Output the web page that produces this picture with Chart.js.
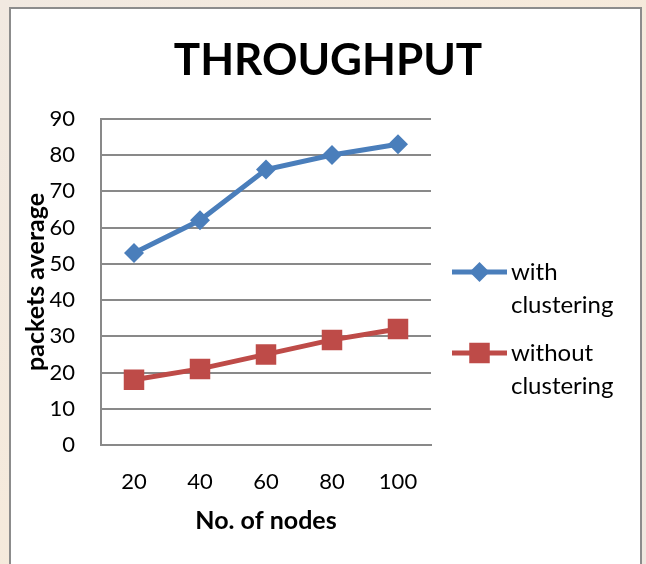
<!DOCTYPE html>
<html>
<head>
<meta charset="utf-8">
<script src="https://cdn.jsdelivr.net/npm/chart.js@4/dist/chart.umd.min.js"></script>
<style>
  html, body { margin: 0; padding: 0; background: #f3ebe2; }
  #wrap { position: relative; width: 646px; height: 564px; }
  canvas { display: block; }
</style>
</head>
<body>
<div id="wrap"><canvas id="c" width="646" height="564"></canvas></div>
<script>
// Throughput per node count, with and without clustering
const nodeCounts = ['20', '40', '60', '80', '100'];
const withClustering = [53, 62, 76, 80, 83];
const withoutClustering = [18, 21, 25, 29, 32];
const legendLines = [['with', 'clustering'], ['without', 'clustering']];

const FONT = "Lato, 'Open Sans', sans-serif";
const BLUE = '#4a7ebb';
const RED = '#be4b48';
const GRID = '#898989';

// White framed panel over a soft beige page
const framePlugin = {
  id: 'frame',
  beforeDraw(chart) {
    const ctx = chart.ctx;
    const w = chart.width, h = chart.height;
    ctx.save();
    const g = ctx.createLinearGradient(0, 0, w, h);
    g.addColorStop(0, '#f1e9e1');
    g.addColorStop(0.5, '#f6eadb');
    g.addColorStop(1, '#efe7df');
    ctx.fillStyle = g;
    ctx.fillRect(0, 0, w, h);
    ctx.fillStyle = '#ffffff';
    ctx.fillRect(10, 8, 631, h);
    ctx.strokeStyle = '#8c8c8c';
    ctx.lineWidth = 2;
    ctx.strokeRect(10, 8, 631, h + 10);
    ctx.restore();
  }
};

// Right-hand legend column: reserves space in the layout and draws
// each series sample with its label wrapped over two lines
const legendBox = {
  position: 'right',
  weight: 0,
  fullSize: false,
  options: { stackWeight: 1 },
  left: 0, top: 0, right: 0, bottom: 0, width: 0, height: 0,
  chart: null,
  isHorizontal() { return false; },
  update(maxWidth, maxHeight) { this.width = 215; this.height = maxHeight; },
  draw() {
    const chart = this.chart;
    const ctx = chart.ctx;
    const x0 = this.left + 21, x1 = this.left + 76, textX = this.left + 80;
    const rowY = [272, 353];
    const lineGap = 33;
    ctx.save();
    chart.data.datasets.forEach((ds, i) => {
      const y = rowY[i];
      ctx.strokeStyle = ds.borderColor;
      ctx.lineWidth = ds.borderWidth;
      ctx.beginPath();
      ctx.moveTo(x0, y);
      ctx.lineTo(x1, y);
      ctx.stroke();
      ctx.fillStyle = ds.pointBackgroundColor;
      ctx.strokeStyle = ds.pointBackgroundColor;
      Chart.helpers.drawPoint(ctx, {
        pointStyle: ds.pointStyle,
        radius: ds.pointRadius,
        borderWidth: 0
      }, (x0 + x1) / 2, y);
      ctx.fillStyle = '#000000';
      ctx.font = '24px ' + FONT;
      ctx.textBaseline = 'middle';
      ctx.textAlign = 'left';
      legendLines[i].forEach((t, k) => ctx.fillText(t, textX, y + k * lineGap));
    });
    ctx.restore();
  }
};

const wrapLegend = {
  id: 'wrapLegend',
  beforeInit(chart) {
    legendBox.chart = chart;
    Chart.layouts.addBox(chart, legendBox);
  }
};

new Chart(document.getElementById('c'), {
  type: 'line',
  data: {
    labels: nodeCounts,
    datasets: [
      {
        label: 'with clustering',
        data: withClustering,
        borderColor: BLUE,
        backgroundColor: BLUE,
        pointBackgroundColor: BLUE,
        pointBorderColor: BLUE,
        borderWidth: 5,
        pointStyle: 'rectRot',
        pointRadius: 10,
        pointBorderWidth: 0,
        tension: 0
      },
      {
        label: 'without clustering',
        data: withoutClustering,
        borderColor: RED,
        backgroundColor: RED,
        pointBackgroundColor: RED,
        pointBorderColor: RED,
        borderWidth: 5,
        pointStyle: 'rect',
        pointRadius: 14.5,
        pointBorderWidth: 0,
        tension: 0
      }
    ]
  },
  options: {
    responsive: false,
    animation: false,
    layout: { padding: { left: 10, right: 0, top: 0, bottom: 0 } },
    plugins: {
      legend: { display: false },
      tooltip: { enabled: false },
      title: {
        display: true,
        text: 'THROUGHPUT',
        color: '#000000',
        font: { family: FONT, size: 44, weight: 'bold', lineHeight: 1.2 },
        padding: { top: 34, bottom: 32 }
      }
    },
    scales: {
      x: {
        offset: true,
        grid: { display: false, drawTicks: false },
        border: { display: true, color: GRID, width: 2 },
        ticks: { color: '#000000', font: { family: FONT, size: 22 }, padding: 24 },
        title: {
          display: true,
          text: 'No. of nodes',
          color: '#000000',
          font: { family: FONT, size: 25, weight: 'bold' },
          padding: { top: 0, bottom: 28 }
        },
        afterFit(scale) { scale.height = 119; }
      },
      y: {
        min: 0,
        max: 90,
        ticks: { stepSize: 10, color: '#000000', font: { family: FONT, size: 22 }, padding: 26 },
        grid: { color: GRID, lineWidth: 2, drawTicks: false },
        border: { display: true, color: GRID, width: 2 },
        title: {
          display: true,
          text: 'packets average',
          color: '#000000',
          font: { family: FONT, size: 25, weight: 'bold' },
          padding: { top: 11, bottom: 0 }
        },
        afterFit(scale) { scale.width = 91; }
      }
    }
  },
  plugins: [framePlugin, wrapLegend]
});
</script>
</body>
</html>
